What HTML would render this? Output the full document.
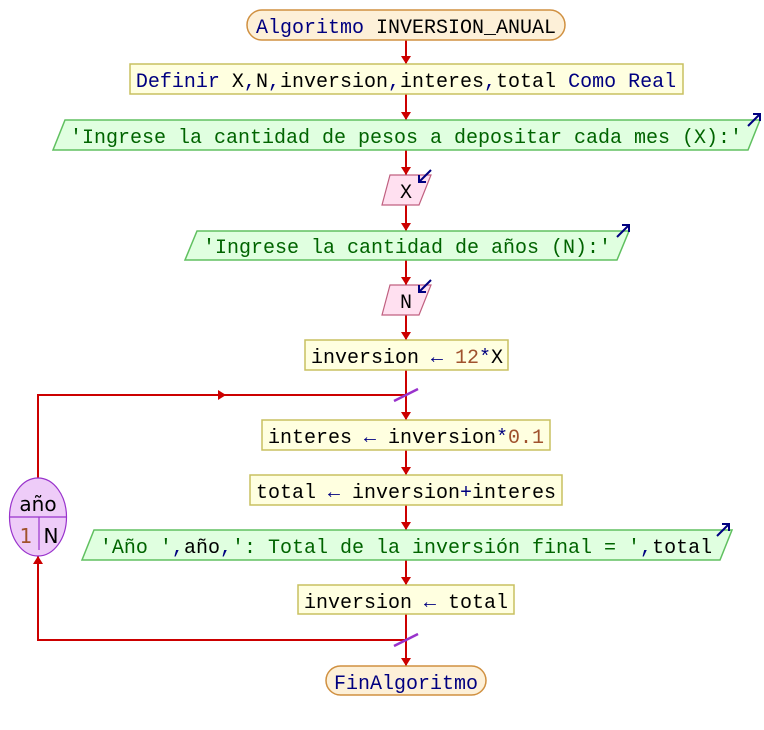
<!DOCTYPE html>
<html><head><meta charset="utf-8"><style>
html,body{margin:0;padding:0;background:#fff;width:764px;height:730px;overflow:hidden}
text{font-family:"Liberation Mono","DejaVu Sans Mono",monospace;font-size:20px}
.k{fill:#000080}.s{fill:#006400}.n{fill:#a0522d}.i{fill:#000}
</style></head><body>
<svg width="764" height="730" viewBox="0 0 764 730" xmlns="http://www.w3.org/2000/svg">
<g stroke="#cc0000" stroke-width="2" fill="none">
<line x1="406" y1="40" x2="406" y2="64"/>
<line x1="406" y1="94" x2="406" y2="120"/>
<line x1="406" y1="150" x2="406" y2="175"/>
<line x1="406" y1="205" x2="406" y2="231"/>
<line x1="406" y1="260" x2="406" y2="285"/>
<line x1="406" y1="315" x2="406" y2="340"/>
<line x1="406" y1="370" x2="406" y2="420"/>
<line x1="406" y1="450" x2="406" y2="475"/>
<line x1="406" y1="505" x2="406" y2="530"/>
<line x1="406" y1="560" x2="406" y2="585"/>
<line x1="406" y1="614" x2="406" y2="666"/>
<polyline points="406,395 38,395 38,478"/>
<polyline points="406,640 38,640 38,556"/>
</g>
<g fill="#cc0000">
<polygon points="401,56 411,56 406,64"/>
<polygon points="401,112 411,112 406,120"/>
<polygon points="401,167 411,167 406,175"/>
<polygon points="401,223 411,223 406,231"/>
<polygon points="401,277 411,277 406,285"/>
<polygon points="401,332 411,332 406,340"/>
<polygon points="401,412 411,412 406,420"/>
<polygon points="401,467 411,467 406,475"/>
<polygon points="401,522 411,522 406,530"/>
<polygon points="401,577 411,577 406,585"/>
<polygon points="401,658 411,658 406,666"/>
<polygon points="218,390 218,400 226,395"/>
<polygon points="33,564 43,564 38,556"/>
</g>
<g stroke="#9933cc" stroke-width="2.5">
<line x1="394" y1="401" x2="418" y2="389"/>
<line x1="394" y1="646" x2="418" y2="634"/>
</g>
<rect x="247" y="10" width="318" height="30" rx="15" fill="#fdf0d8" stroke="#d09040" stroke-width="1.5"/>
<text x="406" y="33" text-anchor="middle" xml:space="preserve"><tspan class="k">Algoritmo</tspan><tspan class="i"> INVERSION_ANUAL</tspan></text>
<rect x="130" y="64" width="553" height="30" fill="#ffffe0" stroke="#c8c060" stroke-width="1.5"/>
<text x="406" y="87" text-anchor="middle" xml:space="preserve"><tspan class="k">Definir </tspan><tspan class="i">X</tspan><tspan class="k">,</tspan><tspan class="i">N</tspan><tspan class="k">,</tspan><tspan class="i">inversion</tspan><tspan class="k">,</tspan><tspan class="i">interes</tspan><tspan class="k">,</tspan><tspan class="i">total </tspan><tspan class="k">Como Real</tspan></text>
<polygon points="65,120 760,120 748,150 53,150" fill="#e0ffe0" stroke="#60c060" stroke-width="1.5"/>
<text x="406" y="143" text-anchor="middle" class="s">'Ingrese la cantidad de pesos a depositar cada mes (X):'</text>
<polygon points="390,175 431,175 419,205 382,205" fill="#ffe0f0" stroke="#c06080" stroke-width="1.2"/>
<text x="406" y="198" text-anchor="middle" class="i">X</text>
<polygon points="197,231 629,231 617,260 185,260" fill="#e0ffe0" stroke="#60c060" stroke-width="1.5"/>
<text x="407" y="253" text-anchor="middle" class="s">'Ingrese la cantidad de años (N):'</text>
<polygon points="390,285 431,285 419,315 382,315" fill="#ffe0f0" stroke="#c06080" stroke-width="1.2"/>
<text x="406" y="308" text-anchor="middle" class="i">N</text>
<rect x="305" y="340" width="203" height="30" fill="#ffffe0" stroke="#c8c060" stroke-width="1.5"/>
<text x="407" y="363" text-anchor="middle" xml:space="preserve"><tspan class="i">inversion </tspan><tspan class="k">←</tspan><tspan class="n"> 12</tspan><tspan class="k">*</tspan><tspan class="i">X</tspan></text>
<rect x="262" y="420" width="288" height="30" fill="#ffffe0" stroke="#c8c060" stroke-width="1.5"/>
<text x="406" y="443" text-anchor="middle" xml:space="preserve"><tspan class="i">interes </tspan><tspan class="k">←</tspan><tspan class="i"> inversion</tspan><tspan class="k">*</tspan><tspan class="n">0.1</tspan></text>
<rect x="250" y="475" width="312" height="30" fill="#ffffe0" stroke="#c8c060" stroke-width="1.5"/>
<text x="406" y="498" text-anchor="middle" xml:space="preserve"><tspan class="i">total </tspan><tspan class="k">←</tspan><tspan class="i"> inversion</tspan><tspan class="k">+</tspan><tspan class="i">interes</tspan></text>
<polygon points="94,530 732,530 720,560 82,560" fill="#e0ffe0" stroke="#60c060" stroke-width="1.5"/>
<text x="406" y="553" text-anchor="middle" xml:space="preserve"><tspan class="s">'Año '</tspan><tspan class="k">,</tspan><tspan class="i">año</tspan><tspan class="k">,</tspan><tspan class="s">': Total de la inversión final = '</tspan><tspan class="k">,</tspan><tspan class="i">total</tspan></text>
<rect x="298" y="585" width="216" height="29" fill="#ffffe0" stroke="#c8c060" stroke-width="1.5"/>
<text x="406" y="608" text-anchor="middle" xml:space="preserve"><tspan class="i">inversion </tspan><tspan class="k">←</tspan><tspan class="i"> total</tspan></text>
<rect x="326" y="666" width="160" height="29" rx="14.5" fill="#fdf0d8" stroke="#d09040" stroke-width="1.5"/>
<text x="406" y="689" text-anchor="middle" class="k">FinAlgoritmo</text>
<ellipse cx="38" cy="517" rx="28.5" ry="39" fill="#eeccf8" stroke="#9933cc" stroke-width="1.2"/>
<line x1="10" y1="517" x2="67" y2="517" stroke="#9933cc" stroke-width="1.2"/>
<line x1="39" y1="517" x2="39" y2="550" stroke="#9933cc" stroke-width="1.2"/>
<text x="38" y="511" text-anchor="middle" style="font-family:'DejaVu Sans','Liberation Sans',sans-serif;font-size:20px" class="i">año</text>
<text x="26" y="543" text-anchor="middle" style="font-family:'DejaVu Sans','Liberation Sans',sans-serif;font-size:20px" class="n">1</text>
<text x="51" y="543" text-anchor="middle" style="font-family:'DejaVu Sans','Liberation Sans',sans-serif;font-size:20px" class="i">N</text>
<g stroke="#000080" stroke-width="2" fill="none">
<line x1="748" y1="126" x2="760" y2="114"/><polyline points="753,114 760,114 760,121"/>
<line x1="617" y1="237" x2="629" y2="225"/><polyline points="622,225 629,225 629,232"/>
<line x1="717" y1="536" x2="729" y2="524"/><polyline points="722,524 729,524 729,531"/>
<line x1="431" y1="170" x2="419" y2="182"/><polyline points="419,175 419,182 426,182"/>
<line x1="431" y1="280" x2="419" y2="292"/><polyline points="419,285 419,292 426,292"/>
</g>
</svg>
</body></html>
